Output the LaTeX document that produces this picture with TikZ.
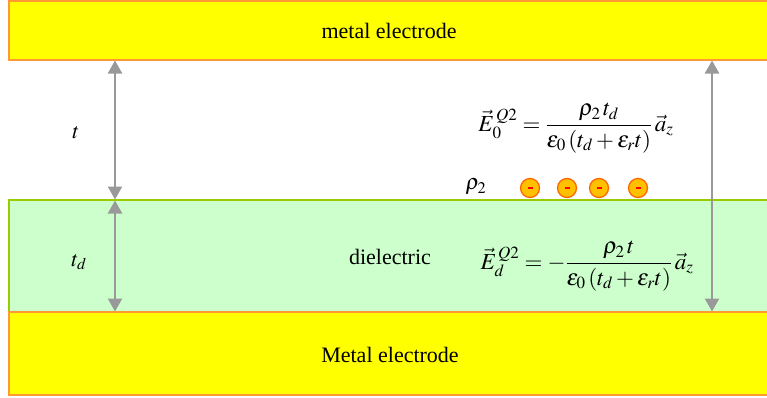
\documentclass[tikz,border=0pt]{standalone}
\usepackage{mathptmx}
\usepackage[no-math]{fontspec}
\setmainfont{Liberation Serif}
\usetikzlibrary{arrows.meta}
\definecolor{elecfill}{HTML}{FFFF00}
\definecolor{elecdraw}{HTML}{FF9933}
\definecolor{dielfill}{HTML}{CCFFCC}
\definecolor{dieldraw}{HTML}{99CC00}
\definecolor{arrowgray}{HTML}{999999}
\definecolor{chargefill}{HTML}{FFC000}
\definecolor{chargedraw}{HTML}{FF6600}
\begin{document}
\begin{tikzpicture}[x=1pt,y=-1pt,
  electrode/.style={fill=elecfill,draw=elecdraw,line width=1.3pt},
  dielbox/.style={fill=dielfill,draw=dieldraw,line width=1.3pt},
  dim/.style={draw=arrowgray,line width=2.4pt,{Triangle[width=14pt,length=13pt]}-{Triangle[width=14pt,length=13pt]},shorten <=0.5pt,shorten >=0.5pt},
  charge/.style={circle,fill=chargefill,draw=chargedraw,line width=1.3pt,minimum size=19pt,inner sep=0pt},
  minus/.style={draw=red,line width=1.6pt},
  lbl/.style={font=\fontsize{22}{26}\selectfont,inner sep=0pt},
  eqn/.style={font=\fontsize{23}{27}\selectfont,inner sep=0pt}]
\useasboundingbox (0,0) rectangle (767,397);
\begin{scope}
\clip (0,0) rectangle (767,397);
\draw[electrode] (9,1) rectangle (780,60);
\draw[dielbox] (9,200) rectangle (780,312);
\draw[electrode] (9,312) rectangle (780,395);
\end{scope}
\node[lbl] (top) at (389,31) {metal electrode};
\node[lbl] (diel) at (390,257) {dielectric};
\node[lbl] (bot) at (390,355) {Metal electrode};
\coordinate (la) at (115,60);
\coordinate (lb) at (115,200);
\coordinate (lc) at (115,312);
\coordinate (ra) at (712,60);
\coordinate (rb) at (712,312);
\draw[dim] (la) -- (lb);
\draw[dim] (lb) -- (lc);
\draw[dim] (ra) -- (rb);
\node[lbl] (tl) at (76,133) {$t$};
\node[lbl] (tdl) at (79,262) {$t_d$};
\node[lbl] (rho) at (476,187) {$\rho_2$};
\foreach \i/\x in {1/530,2/567,3/599,4/638}{
  \node[charge] (q\i) at (\x,188) {};
  \draw[minus] ([xshift=-2.5pt]q\i.center) -- ([xshift=2.5pt]q\i.center);
}
\node[eqn] (eq1) at (576,128) {$\displaystyle \vec{E}_0^{\,Q2} = \frac{\rho_2\, t_d}{\varepsilon_0\, (t_d + \varepsilon_r t)}\,\vec{a}_z$};
\node[eqn] (eq2) at (587,266) {$\displaystyle \vec{E}_d^{\,Q2} = -\frac{\rho_2\, t}{\varepsilon_0\, (t_d + \varepsilon_r t)}\,\vec{a}_z$};
\end{tikzpicture}
\end{document}
